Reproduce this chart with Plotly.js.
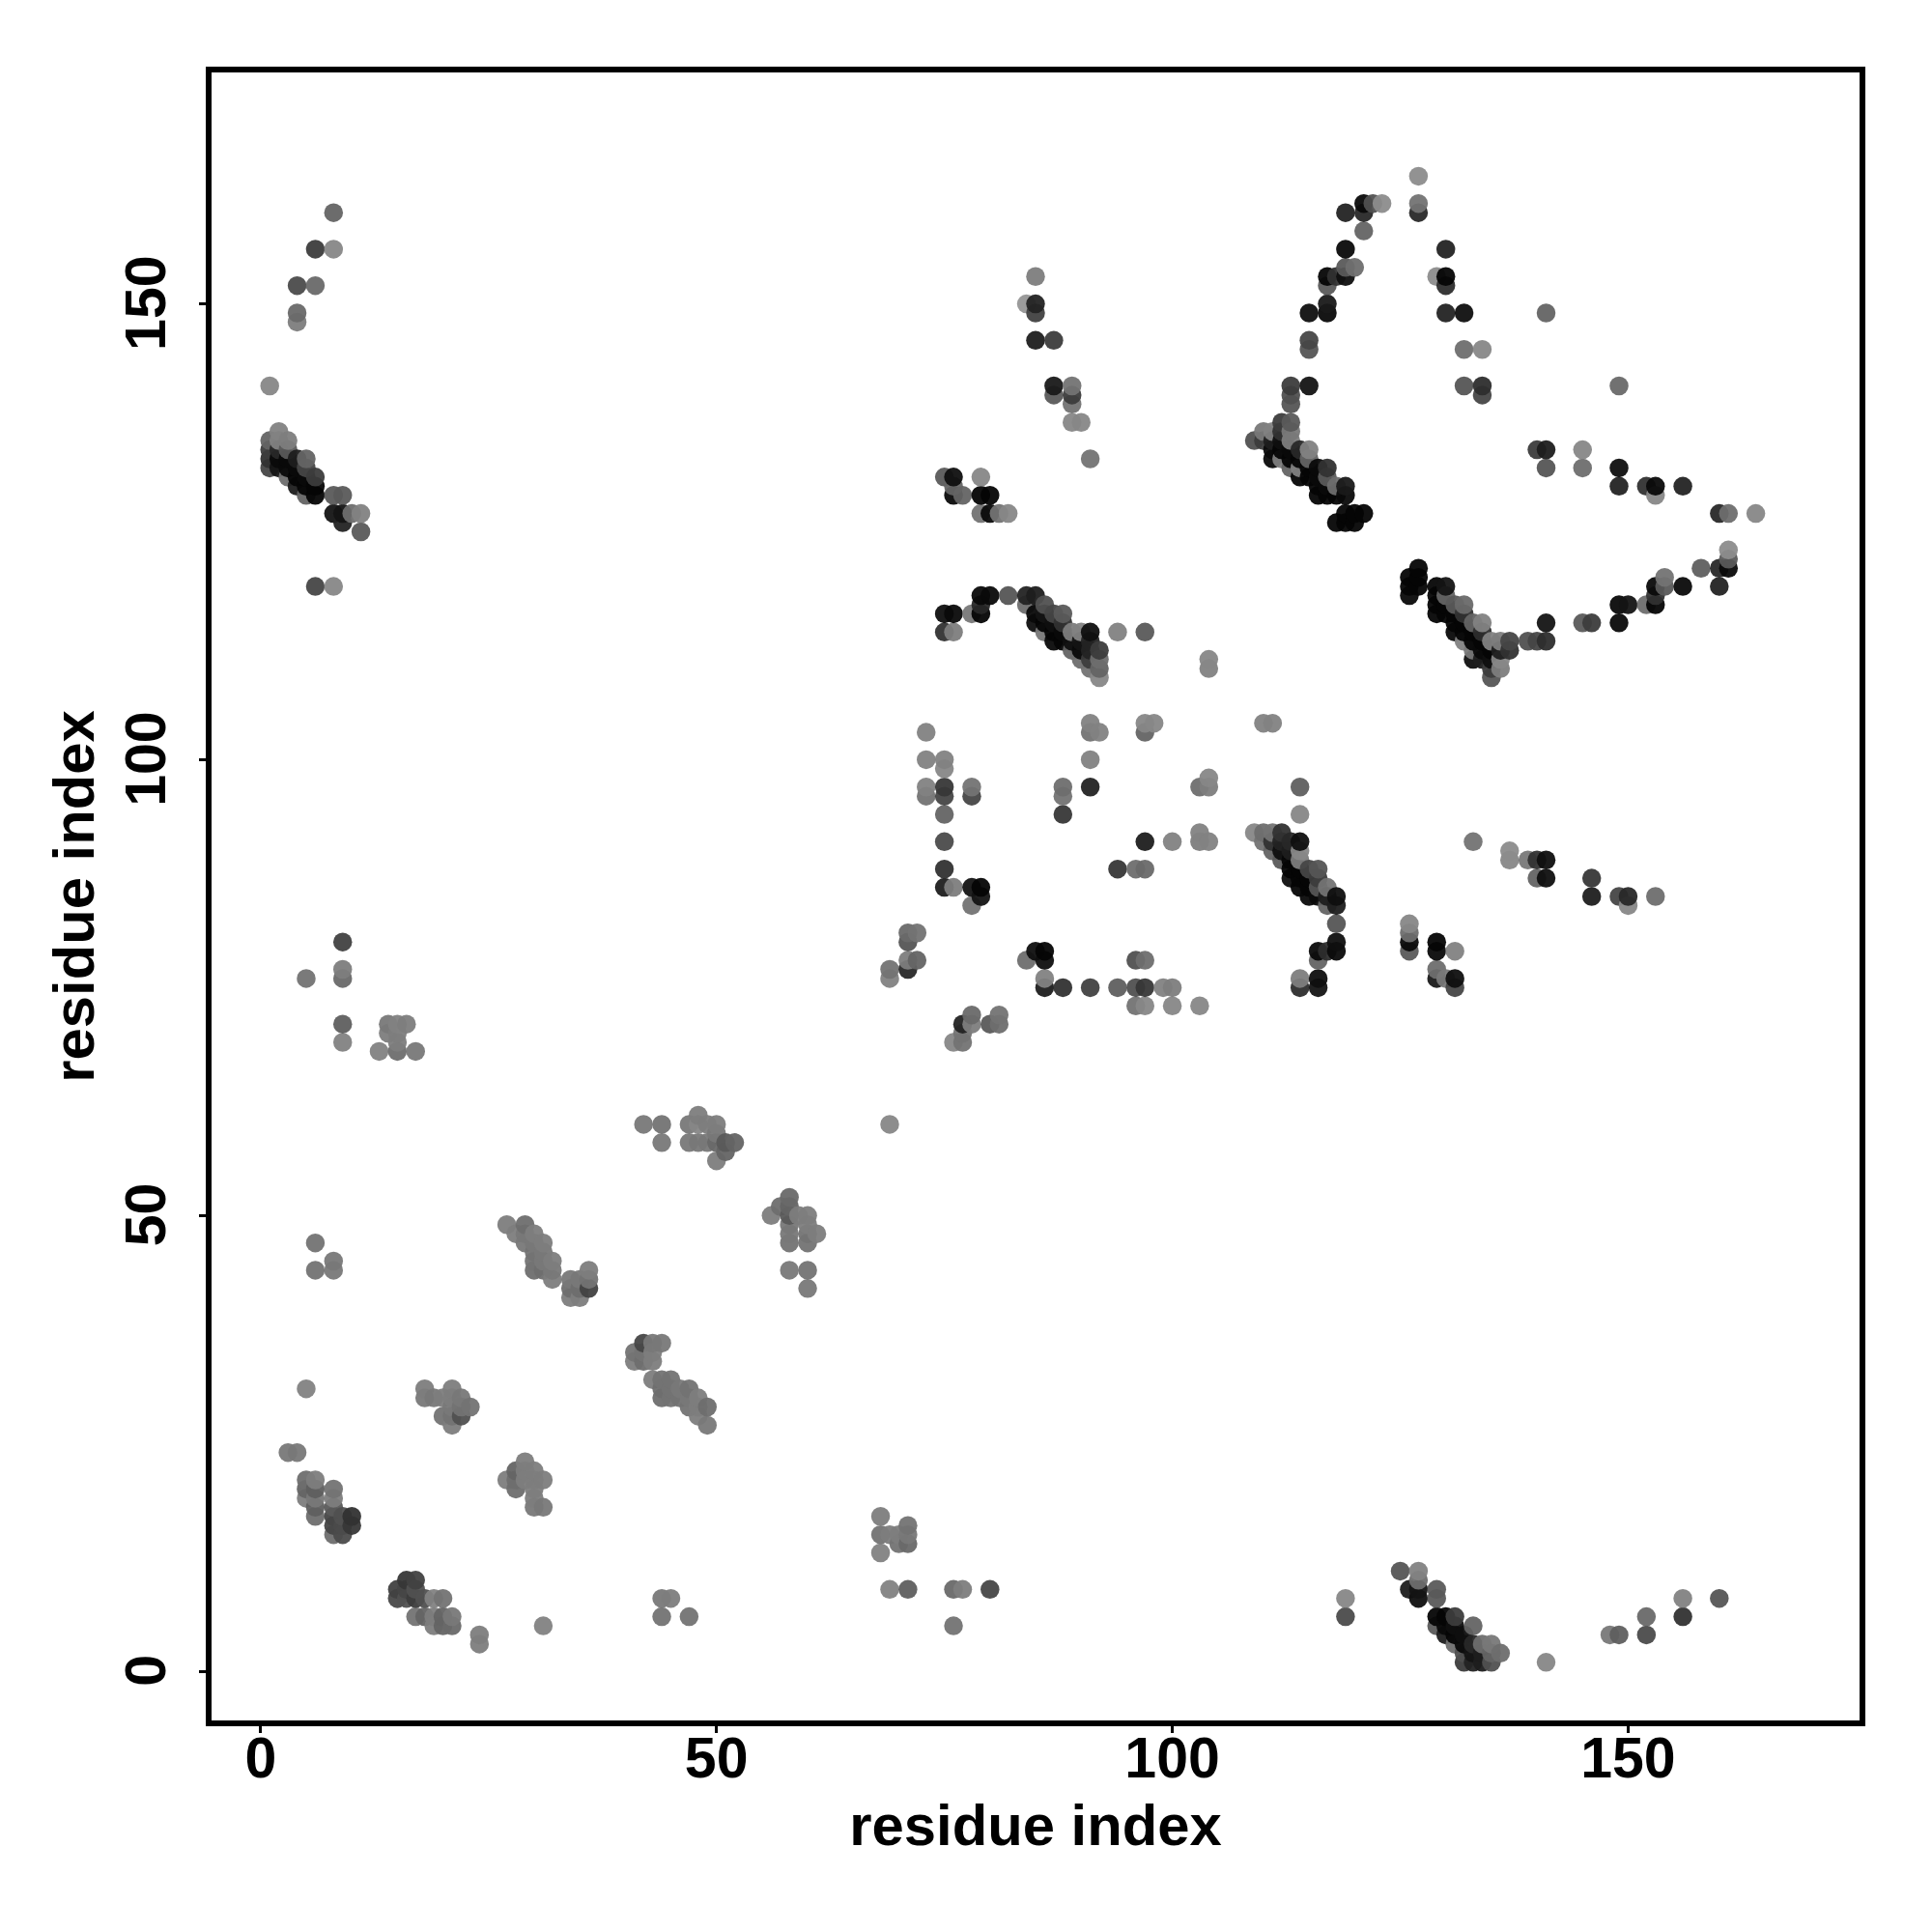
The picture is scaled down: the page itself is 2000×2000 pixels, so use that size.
<!DOCTYPE html>
<html>
<head>
<meta charset="utf-8">
<script src="https://cdn.plot.ly/plotly-3.0.1.min.js"></script>
<style>html,body{margin:0;padding:0;background:#fff}</style>
</head>
<body>
<div id="chart" style="width:2000px;height:2000px"></div>
<script>
// Contact-map points: residue i, residue j, grey level
const residueI = [
 4,4,8,6,8,4,6,1,
 1,1,1,1,2,3,2,2,2,2,3,3,3,3,4,4,4,4,5,5,5,5,5,6,6,6,8,9,8,9,10,11,9,11,6,8,
 84,85,85,85,85,87,87,87,89,89,89,89,90,91,
 75,76,79,76,76,77,79,80,79,80,81,82,
 79,80,82,84,85,75,76,78,79,79,75,76,84,86,85,86,87,88,85,86,87,88,86,87,88,89,90,91,94,97,
 87,88,89,90,91,92,89,90,91,90,91,92,91,92,92,104,104,
 127,127,127,122,121,121,123,119,121,119,130,119,120,117,118,119,117,129,130,130,117,117,115,130,132,141,
 115,115,132,134,113,115,113,113,132,134,134,149,
 109,110,111,112,113,112,113,113,111,112,110,111,112,113,114,115,111,112,113,114,115,114,115,116,117,113,114,115,116,117,118,119,116,117,118,119,116,117,119,120,121,118,119,120,
 140,141,145,141,145,149,149,152,153,156,153,160,161,164,
 161,161,161,160,158,160,156,154,154,153,153,153,152,150,149,149,146,145,141,141,140,139,
 127,126,127,126,127,126,129,130,129,130,129,130,131,132,129,130,131,132,131,132,133,134,131,132,133,134,132,133,134,135,136,137,133,134,135,136,137,133,134,135,136,135,136,135,
 110,111,114,114,109,110,111,112,110,111,112,113,114,111,112,113,114,112,113,114,113,114,115,116,113,114,115,116,117,114,115,116,118,115,116,117,117,118,118,118,118,116,117,116,114,114,116,116,
 126,126,126,126,129,129,131,129,129,130,131,131,
 133,137,137,139,140,141,140,141,146,146,149,150,150,153,
 73,73,75,75,73,73,75,75,75,75,75,75,76,78,78,78,79,79,78,88,88,88,91,91,91,92,91,97,98,97,104,103,104,97,100,103,103,104,94,96,97,
 71,72,71,71,72,71,69,69,69,84,85,86,86,86,86,88,91,94,96,97,99,100,96,97,96,97,100,103,78,81,77,78,80,81,77,76,77,
 9,5,9,9,9,9,14,15,16,14,15,15,13,15,17,
 42,44,44,47,47,48,49,48,49,50,50,50,51,52,51,50,48,
 58,57,58,56,58,59,60,58,60,58,60,61,58,60,58,60,60,
 42,43,44,41,42,43,41,42,43,43,44,45,44,45,46,47,44,45,46,47,48,47,48,49,48,49,
 6,6,8,8,27,29,28,29,30,29,30,31,30,31,30,31,32,30,31,32,32,34,35,36,36,34,35,36,34,35,
 5,18,21,18,19,20,21,22,22,23,21,20,21,22,21,
 3,4,5,6,5,6,5,6,6,6,8,8,8,8,8,8,9,9,9,10,10,
 15,16,17,15,16,17,15,16,17,18,19,20,17,18,19,20,21,19,20,21,24,24,31,
 28,27,28,28,29,29,30,29,30,31,30,30,30,31,44,45,44,47,
 68,68,69,70,71,71,70,71,68,69,71,76,77,80,76,
 119,119,125,127,127,126,127,127,129,129,129,130,131,129,130,131,133,130,131,132,131,132,133,134,135,132,133,134,136,135,132,133,134,135,141,
 148,149,152,152,156,156,160
];
const residueJ = [
 148,149,160,156,156,152,152,141,
 135,134,133,132,135,135,134,133,132,136,134,133,132,131,133,132,131,130,133,132,131,130,129,131,130,129,129,129,127,127,127,127,126,125,119,119,
 150,153,150,149,146,146,141,140,141,140,139,137,137,133,
 131,131,131,130,129,129,129,129,127,127,127,127,
 118,118,118,118,118,116,116,116,116,117,114,114,117,117,116,116,116,116,115,115,115,115,114,114,114,114,114,114,114,114,
 113,113,113,113,113,112,112,112,112,111,111,111,110,110,109,111,110,
 164,161,160,161,161,160,161,160,158,156,156,154,154,153,153,153,152,153,153,152,150,149,149,149,149,149,
 146,145,145,145,141,141,140,139,141,141,140,141,
 135,136,136,137,137,136,136,135,135,135,135,134,134,134,134,134,133,133,133,133,133,132,132,132,132,132,131,131,131,131,130,130,129,129,129,129,130,130,127,127,127,126,126,126,
 134,134,134,132,132,132,130,130,130,130,129,127,127,127,
 123,122,121,121,121,119,119,120,119,119,118,117,117,117,117,115,115,115,115,113,113,113,
 121,120,120,119,119,118,119,119,118,118,117,117,117,117,116,116,116,116,115,115,115,115,114,114,114,114,113,113,113,113,113,113,112,112,112,112,112,111,111,111,111,110,110,109,
 104,104,97,94,92,92,92,92,91,91,91,91,91,90,90,90,90,89,89,89,88,88,88,88,87,87,87,87,86,86,86,86,85,85,85,85,84,84,82,80,79,79,79,78,76,75,76,75,
 82,81,80,79,80,79,79,77,76,76,76,75,
 91,90,89,89,89,89,87,87,87,85,85,85,84,85,
 103,100,100,99,97,96,97,96,94,91,88,86,86,97,96,86,86,85,84,97,96,94,104,103,97,103,100,104,104,103,98,97,97,91,91,92,91,91,88,88,88,
 81,81,80,78,78,77,77,76,60,78,79,79,78,76,75,75,75,75,75,75,75,75,78,78,73,73,73,73,72,72,71,71,71,71,70,69,69,
 80,76,77,76,71,69,71,71,71,70,70,69,68,68,68,
 60,60,58,60,58,61,60,58,58,60,59,58,58,58,57,56,60,
 52,51,51,50,50,50,50,49,49,48,48,48,47,47,44,44,42,
 36,36,36,35,35,35,34,34,34,32,32,32,31,31,31,31,30,30,30,30,30,29,29,29,28,27,
 47,44,45,44,49,49,48,48,48,47,47,47,46,46,45,45,45,44,44,44,43,43,43,44,43,42,42,42,41,41,
 31,31,31,30,30,30,30,30,29,29,29,28,28,28,27,
 24,24,21,21,20,20,19,19,18,17,20,19,18,17,16,15,17,16,15,17,16,
 9,10,10,8,9,9,8,8,8,8,8,8,6,6,6,6,6,5,5,5,4,3,5,
 20,21,21,22,23,22,22,21,21,21,20,19,18,18,8,8,6,6,
 17,15,15,15,16,15,14,14,13,9,9,9,9,9,5,
 8,6,11,11,10,9,9,8,9,8,6,6,6,5,5,5,5,4,4,4,3,3,3,3,3,2,2,2,2,2,1,1,1,1,1,
 4,4,6,4,8,6,8
];
const greyLevel = [
 125,105,100,60,135,75,105,135,
 100,60,50,70,130,125,40,10,20,130,90,10,10,110,30,10,5,30,100,70,10,5,100,60,5,5,90,90,20,20,110,130,35,90,70,135,
 150,125,35,65,30,60,25,90,115,60,115,135,135,115,
 90,15,135,100,10,100,5,5,115,10,115,135,
 10,10,85,35,30,15,10,120,5,40,50,125,110,80,10,20,70,90,15,5,15,50,120,5,10,125,130,15,130,90,
 10,5,15,20,35,60,100,10,35,110,60,110,115,100,135,135,130,
 140,115,40,80,10,40,140,35,100,10,35,90,110,5,50,15,90,140,5,45,25,10,15,35,15,100,
 70,85,110,135,60,20,80,85,85,45,70,105,
 80,120,130,60,90,50,120,125,30,15,60,10,5,10,40,130,10,125,5,5,100,130,5,10,50,100,5,5,10,90,110,25,5,5,5,10,5,10,5,5,5,5,5,5,
 60,30,135,85,110,15,35,50,10,35,135,40,110,135,
 140,90,10,40,95,35,10,115,90,10,50,5,110,20,10,10,60,90,20,45,70,80,
 5,5,5,5,5,10,5,20,5,100,5,5,90,105,5,5,5,50,5,5,100,130,10,5,5,45,130,5,5,130,125,70,120,10,5,30,50,15,30,15,135,60,125,85,
 130,130,95,135,135,110,115,50,115,50,35,40,15,100,15,30,135,90,5,125,5,5,70,85,15,5,5,60,115,5,5,85,15,10,10,30,100,30,85,15,10,10,45,100,125,45,15,20,
 135,110,10,90,5,10,130,110,25,120,15,70,
 115,140,135,120,50,15,100,15,55,30,70,40,135,110,
 130,130,130,135,130,115,55,70,100,75,50,30,125,115,70,20,5,20,115,110,115,55,130,115,35,130,130,135,135,100,135,110,125,30,130,130,125,130,55,110,105,
 105,115,85,125,100,40,115,130,135,110,15,5,15,130,30,50,65,95,80,55,130,125,80,110,115,135,135,135,105,115,35,125,90,110,115,135,115,
 65,115,125,105,95,130,120,130,125,125,125,125,130,110,120,
 120,115,120,120,120,125,125,120,120,125,120,105,90,100,100,125,135,
 105,110,100,125,90,125,125,120,125,120,115,125,115,115,120,115,120,
 70,120,120,115,115,125,125,110,125,125,115,115,110,115,120,115,110,115,115,120,125,115,125,110,125,120,
 115,115,120,120,125,110,125,120,125,120,120,125,115,120,115,120,125,110,110,120,125,120,120,125,115,110,110,65,125,125,
 130,125,125,120,120,125,125,120,115,115,120,115,115,80,125,
 120,120,110,125,100,95,125,120,95,110,115,125,90,70,70,110,80,75,75,50,55,
 65,55,65,100,70,80,80,80,60,80,130,115,115,100,125,100,120,125,100,105,125,125,130,
 110,125,110,100,125,125,125,125,125,125,125,125,120,120,120,125,115,115,
 125,115,125,125,115,120,115,105,130,130,95,105,125,70,115,
 135,75,85,130,110,30,20,15,90,90,5,5,60,90,10,15,100,30,5,15,110,10,40,110,120,80,20,30,110,100,60,35,30,80,135,
 120,95,105,75,130,50,85
];

const xTickValues = [0, 50, 100, 150];
const yTickValues = [0, 50, 100, 150];
const axisTitle = "residue index";

// The reference paints points in order of residue i, then residue j
const drawOrder = residueI.map((_, k) => k)
  .sort((a, b) => residueI[a] - residueI[b] || residueJ[a] - residueJ[b]);

const tickFont = {family: "Liberation Sans, Arial, sans-serif", size: 59, color: "#000", weight: 700};
const titleFont = {family: "Liberation Sans, Arial, sans-serif", size: 59.8, color: "#000", weight: 700};

const commonAxis = {
  range: [-5.7, 175.7],
  tickmode: "array",
  ticks: "outside",
  ticklen: 9,
  tickwidth: 3,
  tickcolor: "#000",
  showgrid: false,
  zeroline: false,
  showline: false,
  automargin: false,
  tickfont: tickFont
};

Plotly.newPlot("chart", [{
  type: "scatter",
  mode: "markers",
  x: drawOrder.map(k => residueI[k]),
  y: drawOrder.map(k => residueJ[k]),
  marker: {
    size: 19.5,
    color: drawOrder.map(k => `rgb(${greyLevel[k]},${greyLevel[k]},${greyLevel[k]})`),
    opacity: 0.95,
    line: {width: 0}
  },
  hoverinfo: "x+y",
  cliponaxis: true
}], {
  width: 2000,
  height: 2000,
  margin: {l: 216, r: 72, t: 72, b: 216, pad: 0},
  paper_bgcolor: "#fff",
  plot_bgcolor: "#fff",
  showlegend: false,
  xaxis: Object.assign({}, commonAxis, {
    tickvals: xTickValues,
    ticktext: xTickValues.map(String),
    ticklabelstandoff: -25,
    title: {text: axisTitle, font: titleFont, standoff: 16}
  }),
  yaxis: Object.assign({}, commonAxis, {
    tickvals: yTickValues,
    ticktext: yTickValues.map(String),
    tickangle: -90,
    ticklabelstandoff: 11,
    ticklabelshift: 8,
    title: {text: axisTitle, font: titleFont, standoff: 1}
  }),
  shapes: [{
    type: "rect", xref: "paper", yref: "paper", x0: 0, x1: 1, y0: 0, y1: 1,
    line: {color: "#000", width: 6}, fillcolor: "rgba(0,0,0,0)", layer: "above"
  }]
}, {displayModeBar: false, staticPlot: true});
</script>
</body>
</html>
